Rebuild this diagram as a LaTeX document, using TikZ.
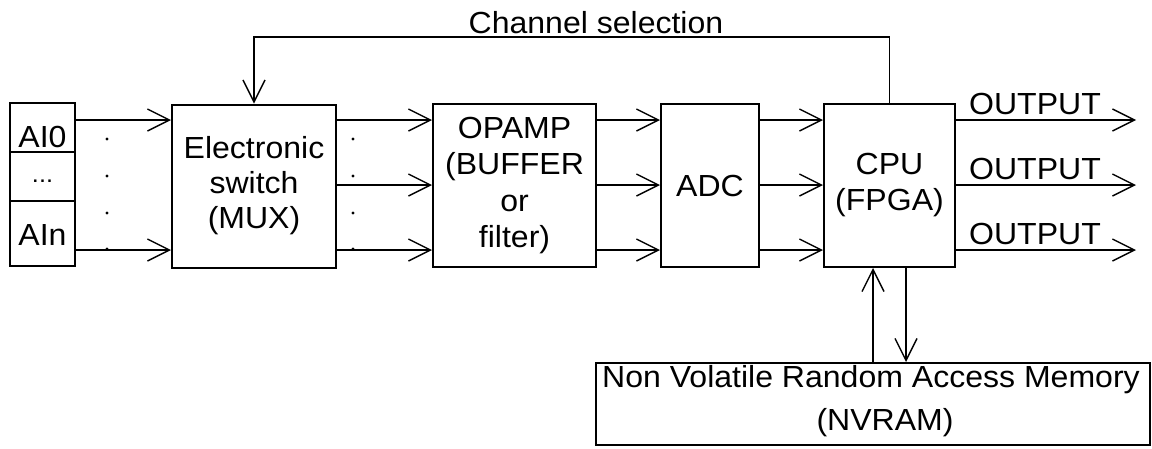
\documentclass[tikz,border=0pt]{standalone}
\usepackage{fontspec}
\setmainfont{Liberation Sans}[FakeStretch=1.05]
\usetikzlibrary{arrows.meta}
\begin{document}
\begin{tikzpicture}[x=1pt,y=-1pt,
  font=\fontsize{30.5}{36}\selectfont,
  box/.style={draw, line width=2pt, inner sep=0pt, align=center},
  conn/.style={line width=1.4pt, -{Straight Barb[length=22pt,width=22pt,line width=1.4pt]}},
  lbl/.style={inner sep=0pt, anchor=base},
  dot/.style={circle, fill, inner sep=0pt, minimum size=3.4pt}]
\useasboundingbox (0,0) rectangle (1152,448);
% row coordinates
\coordinate (r1) at (0,120);
\coordinate (r2) at (0,185);
\coordinate (r3) at (0,250);
\coordinate (dn) at (906,0);
% input block
\node[box, minimum width=65, minimum height=49] (ai0) at (42.5,127.5) {};
\node[box, minimum width=65, minimum height=49] (aid) at (42.5,176.5) {};
\node[box, minimum width=65, minimum height=65] (ain) at (42.5,233.5) {};
\node[lbl] (tai0) at (42.5,147) {AI0};
\node[lbl] (taid) at (42.5,182) {\fontsize{24}{24}\selectfont ...};
\node[lbl] (tain) at (42.5,245) {AIn};
% main boxes
\node[box, minimum width=164, minimum height=163, font=\fontsize{30.5}{35}\selectfont] (mux) at (254,186) {Electronic\\switch\\(MUX)};
\node[box, minimum width=163, minimum height=163, font=\fontsize{30.5}{36.5}\selectfont] (opamp) at (514.5,185.5) {OPAMP\\(BUFFER\\or\\filter)};
\node[box, minimum width=98, minimum height=163] (adc) at (710,185.5) {ADC};
\node[box, minimum width=131, minimum height=163] (cpu) at (889.5,185.5) {CPU\\(FPGA)};
\node[box, minimum width=554, minimum height=82] (nvram) at (873,404) {};
\node[lbl] (tnv1) at (871,387) {Non Volatile Random Access Memory};
\node[lbl] (tnv2) at (885,430) {(NVRAM)};
% inputs to MUX
\draw[conn] (ai0.east |- r1) -- (mux.west |- r1);
\draw[conn] (ain.east |- r3) -- (mux.west |- r3);
% chain of parallel lines
\foreach \r in {r1,r2,r3} {
  \draw[conn] (mux.east |- \r) -- (opamp.west |- \r);
  \draw[conn] (opamp.east |- \r) -- (adc.west |- \r);
  \draw[conn] (adc.east |- \r) -- (cpu.west |- \r);
  \draw[conn] (cpu.east |- \r) -- ++(180,0);
}
% dots
\foreach \y in {139,176,213,249} {
  \node[dot] at (107,\y) {};
  \node[dot] at (353,\y) {};
}
% outputs labels
\node[lbl] (o1) at (1035,114) {OUTPUT};
\node[lbl] (o2) at (1035,179) {OUTPUT};
\node[lbl] (o3) at (1035,244) {OUTPUT};
% channel selection feedback
\draw[conn] (cpu.north) -- ++(0,-66) -| (mux.north);
\node[lbl] (chsel) at (596,33) {Channel selection};
% memory link
\draw[conn] (nvram.north) -- (cpu.south -| nvram.north);
\draw[conn] (cpu.south -| dn) -- (nvram.north -| dn);
\end{tikzpicture}
\end{document}
